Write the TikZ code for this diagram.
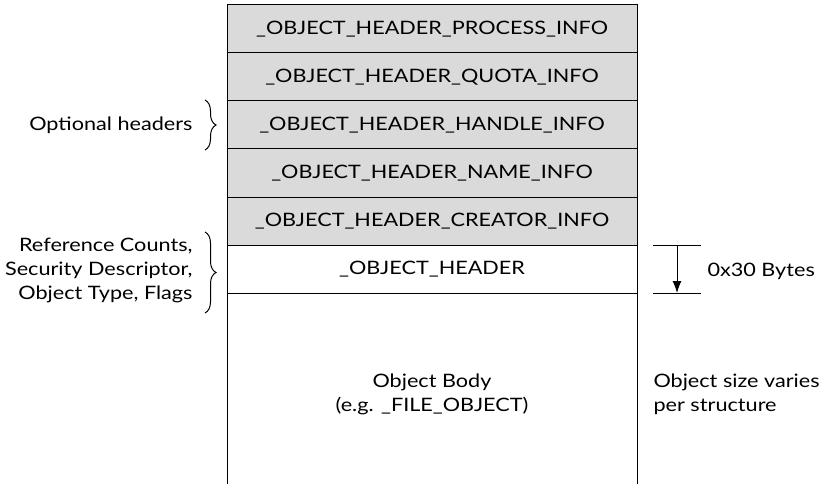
\documentclass[tikz,border=0pt]{standalone}
\usepackage{fontspec}
\setmainfont{Lato}[FakeStretch=1.17]
\usepackage{tikz}
\usetikzlibrary{arrows.meta, positioning, decorations.pathreplacing}
\definecolor{hdrgray}{RGB}{218,218,218}

\begin{document}
\begin{tikzpicture}[x=1pt, y=-1pt, line width=1pt,
  row/.style={draw, minimum width=410pt, minimum height=48pt, inner sep=0pt, outer sep=0pt, font=\fontsize{18.5}{24}\selectfont},
  opt/.style={row, fill=hdrgray},
  lbl/.style={font=\fontsize{18.5}{24}\selectfont, inner sep=0pt},
  brc/.style={decorate, decoration={brace, amplitude=11pt}}]
\useasboundingbox (0,0) rectangle (822,484);

% optionale Header
\node[opt] (proc) at (432,29) {\_OBJECT\_HEADER\_PROCESS\_INFO};
\node[opt, below=0pt of proc] (quota) {\_OBJECT\_HEADER\_QUOTA\_INFO};
\node[opt, below=0pt of quota] (handle) {\_OBJECT\_HEADER\_HANDLE\_INFO};
\node[opt, below=0pt of handle] (name) {\_OBJECT\_HEADER\_NAME\_INFO};
\node[opt, below=0pt of name] (creator) {\_OBJECT\_HEADER\_CREATOR\_INFO};

% Header + Body
\node[row, below=0pt of creator] (hdr) {\_OBJECT\_HEADER};
\coordinate (bodyL) at (227,484);
\coordinate (bodyR) at (637,484);
\draw (hdr.south west) -- (bodyL);
\draw (hdr.south east) -- (bodyR);
\node[lbl, align=center] (body) at (432,394) {Object Body\\(e.g. \_FILE\_OBJECT)};

% Klammern links
\draw[brc] (205,100) -- (205,150);
\node[lbl, anchor=east] (optLbl) at (193,125) {Optional headers};
\draw[brc] (205,232) -- (205,313);
\node[lbl, anchor=east, align=right] (hdrLbl) at (193,270)
  {Reference Counts,\\Security Descriptor,\\Object Type, Flags};

% Groesse
\coordinate (m1) at (653,245);
\coordinate (m2) at (653,293);
\draw (m1) -- ++(48,0);
\draw (m2) -- ++(48,0);
\draw[-{Latex[length=12pt, width=9pt]}] ([xshift=24pt]m1) -- ([xshift=24pt]m2);
\node[lbl, anchor=west] (bytes) at (707,271) {0x30 Bytes};
\node[lbl, anchor=west, align=left] (varies) at (653,394) {Object size varies\\per structure};
\end{tikzpicture}
\end{document}
